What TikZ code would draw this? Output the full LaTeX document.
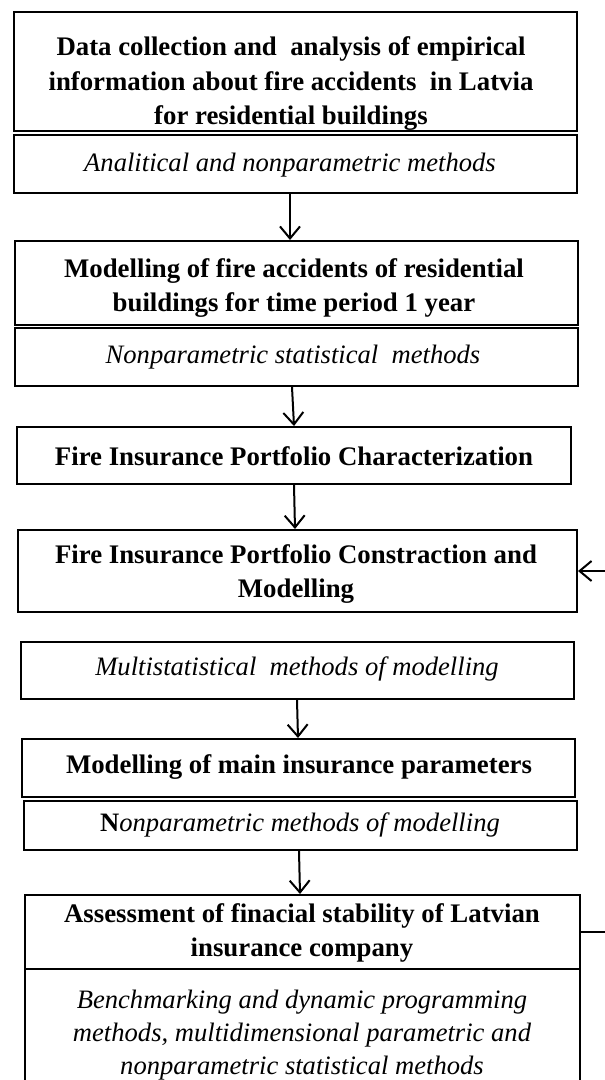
\documentclass[tikz,border=0pt]{standalone}
\usepackage{fontspec}
\setmainfont{Liberation Serif}
\usetikzlibrary{arrows.meta}
\begin{document}
\begin{tikzpicture}[x=1pt,y=-1pt,
  frame/.style={draw, line width=2pt, inner sep=0pt, rectangle},
  txt/.style={align=center, inner sep=0pt, font=\fontsize{26.8}{34.5}\selectfont\bfseries},
  itxt/.style={align=center, inner sep=0pt, font=\fontsize{26.6}{33}\selectfont\itshape},
  arr/.style={line width=2pt, -{Straight Barb[length=12pt,width=20pt,line width=2pt]}}]
\useasboundingbox (0,0) rectangle (605,1080);
\newcommand\mkbox[5]{\node[frame, minimum width={#4-#2}, minimum height={#5-#3}] (#1) at ({(#2+#4)/2},{(#3+#5)/2}) {};}
% boxes
\mkbox{b1}{14}{12}{577}{131}
\mkbox{b1m}{14}{135}{577}{193}
\mkbox{b2}{15}{241}{578}{325}
\mkbox{b2m}{15}{328}{578}{386}
\mkbox{b3}{17}{427}{571}{484}
\mkbox{b4}{18}{530}{577}{612}
\mkbox{b5}{21}{642}{574}{699}
\mkbox{b6}{22}{739}{575}{797}
\mkbox{b6m}{24}{801}{577}{850}
\mkbox{b7}{25}{895}{580}{969}
\mkbox{b7m}{25}{969}{580}{1100}
% texts
\node[txt] (t1) at (291,84) {Data collection and\ \ analysis of empirical\\information about fire accidents\ \ in Latvia\\for residential\ buildings};
\node[itxt] (t1m) at (290,165) {Analitical and nonparametric methods};
\node[txt] (t2) at (294,288) {Modelling of fire accidents of residential\\buildings for time period 1 year};
\node[itxt] (t2m) at (293,357) {Nonparametric statistical\ \ methods};
\node[txt] (t3) at (294,456) {Fire Insurance Portfolio Characterization};
\node[txt] (t4) at (296,574) {Fire Insurance Portfolio Constraction and\\Modelling};
\node[itxt] (t5) at (297,669) {Multistatistical\ \ methods of modelling};
\node[txt] (t6) at (299,767) {Modelling of main insurance parameters};
\node[itxt] (t6m) at (300,825) {\textbf{\upshape N}onparametric methods of modelling};
\node[txt] (t7) at (302,933) {Assessment of finacial stability of Latvian\\insurance company};
\node[itxt] (t7m) at (302,1035) {Benchmarking and dynamic programming\\methods, multidimensional parametric and\\nonparametric statistical methods};
% arrows
\draw[arr] (b1m.south -| 290,0) -- (b2.north -| 290,0);
\draw[arr] (b2m.south -| 292,0) -- (b3.north -| 294,0);
\draw[arr] (b3.south -| 294,0) -- (b4.north -| 295,0);
\draw[arr] (b5.south -| 297,0) -- (b6.north -| 298,0);
\draw[arr] (b6m.south -| 299,0) -- (b7.north -| 300,0);
\draw[arr] (b7.east) -- (b7.east -| 625,0) |- (b4.east);
\end{tikzpicture}
\end{document}
